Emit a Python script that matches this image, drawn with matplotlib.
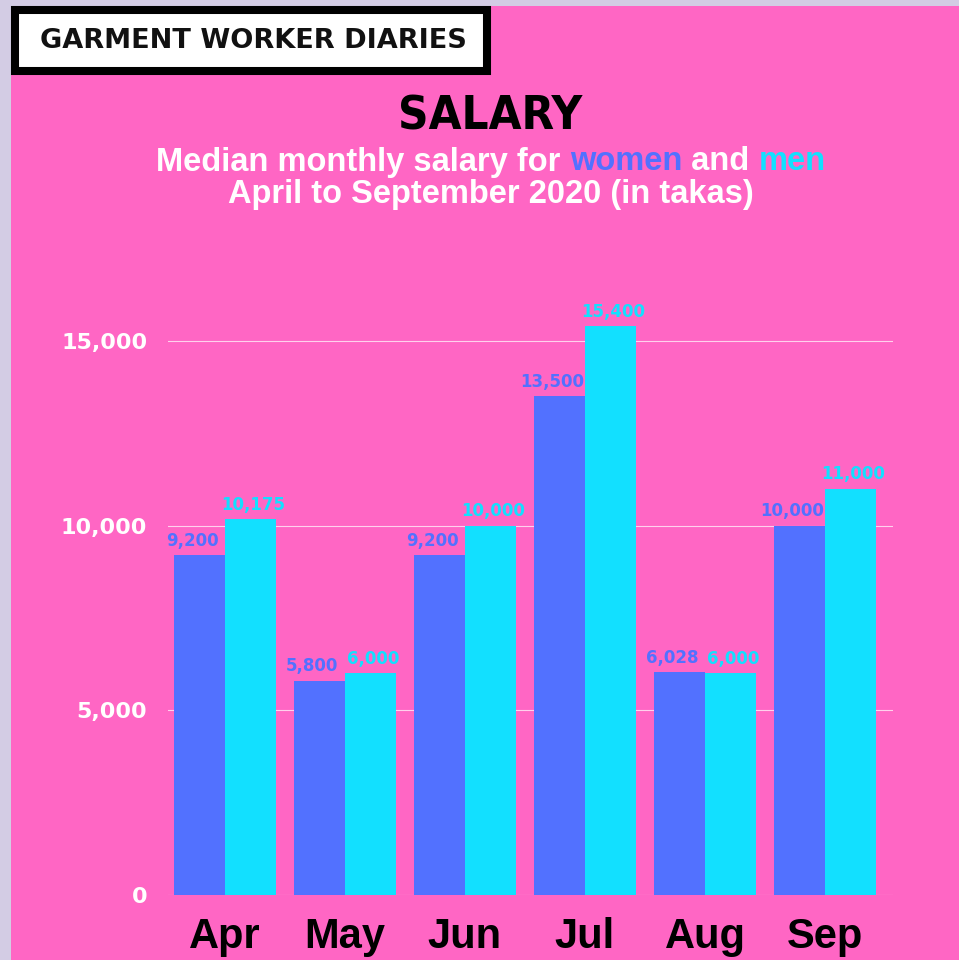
import matplotlib
matplotlib.use("Agg")
import matplotlib.pyplot as plt
from matplotlib.patches import Rectangle
import numpy as np

months = ["Apr", "May", "Jun", "Jul", "Aug", "Sep"]
women = [9200, 5800, 9200, 13500, 6028, 10000]
men = [10175, 6000, 10000, 15400, 6000, 11000]
yticks = [0, 5000, 10000, 15000]

PINK = "#FF66C4"
LAVENDER = "#D3CCE4"
BLUE = "#5271FF"
CYAN = "#12E0FF"

W, H = 959, 960
fig = plt.figure(figsize=(W / 100, H / 100), dpi=100, facecolor=LAVENDER)


def px(x, y):
    return x / W, 1 - y / H


# pink panel
x0, y0 = px(11, 960)
fig.patches.append(Rectangle((x0, y0), 1 - x0, 1 - 6 / H - y0, transform=fig.transFigure,
                             facecolor=PINK, edgecolor="none", zorder=-10))

# header box
bx, by = px(15, 71)
fig.patches.append(Rectangle((bx, by), (487 - 15) / W, (71 - 10) / H, transform=fig.transFigure,
                             facecolor="white", edgecolor="black", linewidth=5.8, zorder=1))
fig.text(*px(253, 41), "GARMENT WORKER DIARIES", ha="center", va="center",
         fontsize=19.5, fontweight="bold", color="#111111", family="DejaVu Sans", zorder=2)

# title
fig.text(*px(490, 117), "SALARY", ha="center", va="center", fontsize=34,
         fontweight="bold", fontstretch="condensed", color="black", family="DejaVu Sans")

# subtitle with coloured words
renderer = fig.canvas.get_renderer()
sub_font = dict(fontsize=23.5, fontweight="bold", fontstretch="condensed", family="Liberation Sans")
parts = [("Median monthly salary for ", "white"), ("women", BLUE),
         (" and ", "white"), ("men", CYAN)]
texts = [fig.text(0, 0, s, color=c, va="center", ha="left", **sub_font) for s, c in parts]
widths = [t.get_window_extent(renderer).width for t in texts]
xs = 491 - sum(widths) / 2
fy = px(0, 162)[1]
for t, w in zip(texts, widths):
    t.set_position((xs / W, fy))
    xs += w
fig.text(*px(491, 194), "April to September 2020 (in takas)", ha="center", va="center",
         color="white", **sub_font)

# chart
ax = fig.add_axes([168 / W, 1 - 895 / H, (893 - 168) / W, (895 - 300) / H])
ax.set_facecolor("none")
x = np.arange(len(months))
bw = 0.425
b1 = ax.bar(x - bw / 2, women, bw, color=BLUE, zorder=3)
b2 = ax.bar(x + bw / 2, men, bw, color=CYAN, zorder=3)

for rect, v in zip(b1, women):
    ax.text(rect.get_x() + rect.get_width() / 2 - 0.06, v + 150, f"{v:,}", ha="center",
            va="bottom", color=BLUE, fontsize=12, fontweight="bold")
for rect, v in zip(b2, men):
    ax.text(rect.get_x() + rect.get_width() / 2 + 0.02, v + 150, f"{v:,}", ha="center",
            va="bottom", color=CYAN, fontsize=12, fontweight="bold")

ax.set_xlim(-0.475, 5.567)
ax.set_ylim(0, 16110)
ax.set_yticks(yticks)
ax.set_yticklabels([f"{v:,}" for v in yticks])
ax.set_xticks(x)
ax.set_xticklabels(months)
ax.tick_params(axis="y", length=0, pad=15, labelsize=16, labelcolor="white")
ax.tick_params(axis="x", length=0, pad=16, labelsize=30, labelcolor="black")
for lab in ax.get_yticklabels():
    lab.set_fontweight("bold")
for lab in ax.get_xticklabels():
    lab.set_fontweight("bold")
    lab.set_family("Liberation Sans")
    lab.set_fontstretch("condensed")
ax.grid(axis="y", color="white", linewidth=0.8, alpha=0.7, zorder=0)
for s in ax.spines.values():
    s.set_visible(False)

fig.savefig("out.png", dpi=100, facecolor=LAVENDER)
